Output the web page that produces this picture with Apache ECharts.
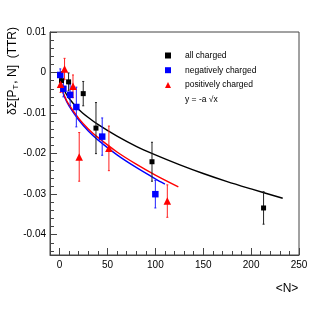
<!DOCTYPE html>
<html><head><meta charset="utf-8">
<script src="https://cdn.jsdelivr.net/npm/echarts@6/dist/echarts.min.js"></script>
<style>html,body{margin:0;padding:0;background:#fff}#c{width:332px;height:319px}</style>
</head><body><div id="c"></div>
<script>
// ---- data ----
const allX = [2, 9.4, 24.7, 38, 96.5, 213];
const allY = [-0.0020, -0.0023, -0.0052, -0.0137, -0.0220, -0.0334];
const allErr = [0.0022, 0.0022, 0.0030, 0.0063, 0.0048, 0.0040];

const negX = [0.7, 4.0, 11.0, 17.5, 44.5, 100];
const negY = [-0.0006, -0.0040, -0.0055, -0.0085, -0.0158, -0.0300];
const negErr = [0.0015, 0.0020, 0.0027, 0.0049, 0.0046, 0.0034];

const posX = [1.0, 5.2, 14.0, 20.5, 51.5, 112.5];
const posY = [-0.0029, 0.0009, -0.0034, -0.0208, -0.0187, -0.0317];
const posErr = [0.0020, 0.0026, 0.0028, 0.0060, 0.0055, 0.0040];

const fitAllX = [2, 5, 10, 20, 30, 40, 60, 80, 100, 125, 150, 175, 200, 233];
const fitAllY = [-0.0029, -0.0045, -0.0064, -0.0091, -0.0111, -0.0128, -0.0157, -0.0182, -0.0203, -0.0227, -0.0249, -0.0269, -0.0287, -0.0310];
const fitNegX = [1, 2, 5, 10, 20, 30, 40, 60, 80, 100, 110];
const fitNegY = [-0.0026, -0.0037, -0.0059, -0.0083, -0.0117, -0.0144, -0.0166, -0.0203, -0.0234, -0.0262, -0.0275];
const fitPosX = [1, 2, 5, 10, 20, 30, 40, 60, 80, 100, 124];
const fitPosY = [-0.0025, -0.0036, -0.0057, -0.0080, -0.0113, -0.0139, -0.0160, -0.0196, -0.0226, -0.0253, -0.0282];

const xTicks = [0, 50, 100, 150, 200, 250];
const yTicks = [-0.04, -0.03, -0.02, -0.01, 0, 0.01];
const yTickLabels = ['-0.04', '-0.03', '-0.02', '-0.01', '0', '0.01'];
const xMinorTicks = [10,20,30,40,60,70,80,90,110,120,130,140,160,170,180,190,210,220,230,240];
const yMinorTicks = [-0.044,-0.042,-0.038,-0.036,-0.034,-0.032,-0.028,-0.026,-0.024,-0.022,-0.018,-0.016,-0.014,-0.012,-0.008,-0.006,-0.004,-0.002,0.002,0.004,0.006,0.008];

const names = ['all charged', 'negatively charged', 'positively charged'];
const fitName = 'y = -a \u221Ax';

function zip(a, b, c) { return a.map((v, i) => c ? [v, b[i], c[i]] : [v, b[i]]); }

const FONT = 'Liberation Sans, Arial, sans-serif';
const AX = '#444';

function errSeries(data, color) {
  return {
    type: 'custom', data: data, z: 3, silent: true,
    encode: { x: 0, y: 1 },
    renderItem: function (params, api) {
      const x = api.value(0), y = api.value(1), e = api.value(2);
      const t = api.coord([x, y + e]);
      const b = api.coord([x, y - e]);
      return { type: 'group', children: [
        { type: 'line', shape: { x1: t[0], y1: t[1], x2: b[0], y2: b[1] }, style: { stroke: color, lineWidth: 1 } },
        { type: 'line', shape: { x1: t[0] - 1, y1: t[1], x2: t[0] + 1, y2: t[1] }, style: { stroke: color, lineWidth: 1 } },
        { type: 'line', shape: { x1: b[0] - 1, y1: b[1], x2: b[0] + 1, y2: b[1] }, style: { stroke: color, lineWidth: 1 } }
      ]};
    }
  };
}

const chart = echarts.init(document.getElementById('c'), null, { renderer: 'canvas' });
chart.setOption({
  animation: false,
  backgroundColor: '#fff',
  textStyle: { fontFamily: FONT },
  grid: { left: 50, right: 33, top: 32, bottom: 64, show: true, borderColor: AX, borderWidth: 1, backgroundColor: 'transparent' },
  legend: {
    orient: 'vertical', left: 165, top: 50.5, padding: 0,
    itemWidth: 6, itemHeight: 6, itemGap: 4.7,
    textStyle: { fontSize: 8.5, color: '#000', fontFamily: FONT, lineHeight: 10, padding: [0, 0, 0, 9] },
    data: [
      { name: names[0], icon: 'rect' },
      { name: names[1], icon: 'rect' },
      { name: names[2], icon: 'triangle' },
      { name: fitName, icon: 'rect', itemStyle: { opacity: 0 } }
    ],
    selectedMode: false
  },
  xAxis: [{
    type: 'value', min: -10, max: 250, position: 'bottom',
    axisLine: { onZero: false, lineStyle: { color: AX, width: 1 } },
    axisTick: { inside: true, length: 7, customValues: xTicks, lineStyle: { color: AX } },
    axisLabel: { customValues: xTicks, fontSize: 10, color: '#000', margin: 5, fontFamily: FONT },
    splitLine: { show: false }
  }, {
    type: 'value', min: -10, max: 250, position: 'bottom',
    axisLine: { show: false, onZero: false },
    axisTick: { inside: true, length: 4, customValues: xMinorTicks, lineStyle: { color: AX } },
    axisLabel: { show: false },
    splitLine: { show: false }
  }],
  yAxis: [{
    type: 'value', min: -0.045, max: 0.01, position: 'left',
    axisLine: { onZero: false, show: true, lineStyle: { color: AX, width: 1 } },
    axisTick: { show: true, inside: true, length: 7, customValues: yTicks, lineStyle: { color: AX } },
    axisLabel: { customValues: yTicks, fontSize: 10, color: '#000', margin: 4, fontFamily: FONT,
      formatter: function (v) { const i = yTicks.findIndex(t => Math.abs(t - v) < 1e-9); return i >= 0 ? yTickLabels[i] : ''; } },
    splitLine: { show: false }
  }, {
    type: 'value', min: -0.045, max: 0.01, position: 'left',
    axisLine: { show: false, onZero: false },
    axisTick: { show: true, inside: true, length: 4, customValues: yMinorTicks, lineStyle: { color: AX } },
    axisLabel: { show: false },
    splitLine: { show: false }
  }],
  graphic: [
    { type: 'text', x: 13, y: 27, rotation: Math.PI / 2, z: 10,
      style: { text: '{m|\u03B4\u03A3[P}{s|T}{m|, N]  (TTR)}', align: 'right', verticalAlign: 'middle',
        rich: { m: { fontSize: 12, fontFamily: FONT, fill: '#000' }, s: { fontSize: 8, fontFamily: FONT, fill: '#000', verticalAlign: 'bottom', padding: [6, 1, 0, 0] } } } },
    { type: 'text', x: 287, y: 289, z: 10,
      style: { text: '<N>', align: 'center', verticalAlign: 'middle', fontSize: 12, fontFamily: FONT, fill: '#000' } }
  ],
  series: [
    { name: fitName, type: 'line', data: zip(fitAllX, fitAllY), showSymbol: false, smooth: 0.3, z: 2,
      lineStyle: { color: '#000', width: 1.4 }, itemStyle: { color: '#000' } },
    { name: fitName, type: 'line', data: zip(fitNegX, fitNegY), showSymbol: false, smooth: 0.3, z: 2,
      lineStyle: { color: '#0000ff', width: 1.4 }, itemStyle: { color: '#0000ff' } },
    { name: fitName, type: 'line', data: zip(fitPosX, fitPosY), showSymbol: false, smooth: 0.3, z: 2,
      lineStyle: { color: '#ff0000', width: 1.4 }, itemStyle: { color: '#ff0000' } },
    errSeries(zip(allX, allY, allErr), '#222'),
    errSeries(zip(negX, negY, negErr), '#2020ff'),
    errSeries(zip(posX, posY, posErr), '#ff2020'),
    { name: names[0], type: 'scatter', symbol: 'rect', symbolSize: 5, data: zip(allX, allY), z: 4, itemStyle: { color: '#000', opacity: 1 } },
    { name: names[1], type: 'scatter', symbol: 'rect', symbolSize: 6.5, data: zip(negX, negY), z: 4, itemStyle: { color: '#0000ff', opacity: 1 } },
    { name: names[2], type: 'scatter', symbol: 'triangle', symbolSize: 7.5, data: zip(posX, posY), z: 5, itemStyle: { color: '#ff0000', opacity: 1 } }
  ]
});
</script>
</body></html>
